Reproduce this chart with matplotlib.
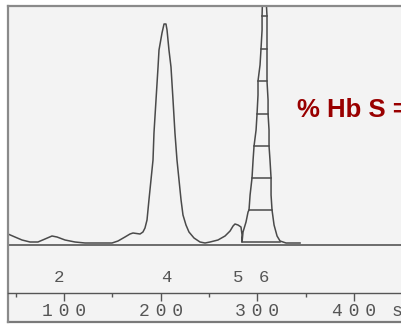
import numpy as np
import matplotlib.pyplot as plt
from matplotlib.ticker import FixedLocator, FixedFormatter

# Chromatogram trace (time in s, signal in arbitrary units)
trace_time = [42.1, 49.3, 56.6, 64.9, 73.1, 80.4, 87.6, 92.8, 101.1, 111.4, 121.8,
              149.7, 155.9, 163.1, 168.3, 171.4, 178.7, 181.7, 183.8, 185.9, 187.9,
              190.0, 192.1, 193.1, 195.2, 197.3, 198.3, 201.4, 203.5, 205.5, 206.6,
              208.6, 210.7, 212.8, 214.8, 216.9, 219.0, 221.1, 223.1, 226.2, 229.3,
              234.5, 240.7, 245.9, 251.1, 259.3, 266.6, 271.8, 274.9, 276.9, 280.0,
              283.1, 284.2, 284.2,
              285.2, 288.3, 290.4, 291.4, 292.5, 294.5, 295.6, 296.6, 298.7, 299.7,
              300.7, 300.7, 302.8, 303.8, 304.9, 304.9, 305.9,
              308.0, 310.0, 310.0, 310.0, 311.1, 311.1, 312.1, 312.1, 313.1, 314.2,
              314.2, 315.2, 317.3, 320.4, 323.5, 329.7, 344.2]
trace_signal = [9, 6, 3, 1, 1, 4, 7, 6, 3, 1, 0,
                0, 2, 6, 9, 10, 9, 11, 15, 23, 43,
                63, 83, 110, 143, 176, 193, 210, 219, 219, 213,
                193, 176, 143, 110, 83, 63, 43, 28, 18, 11,
                5, 1, 0, 1, 3, 7, 12, 17, 19, 18,
                16, 8, 1,
                11, 21, 31, 33, 48, 65, 83, 97, 113, 129,
                148, 162, 178, 194, 213, 227, 263,
                263, 227, 194, 162, 143, 129, 113, 97, 83, 65,
                48, 33, 18, 7, 2, 0, 0]

# integration slices of peak 6
rung_heights = [1, 33, 65, 97, 129, 162, 194, 227]

peak_ids = ["2", "4", "5", "6"]
peak_times = [94.9, 205.5, 280.0, 307.0]

major_ticks = [100, 200, 300, 400]
major_labels = ["1\u20040\u20040", "2\u20040\u20040", "3\u20040\u20040", "4\u20040\u20040"]
minor_ticks = [50, 150, 250, 350]

t = np.array(trace_time)
s = np.array(trace_signal, dtype=float)

fig = plt.figure(figsize=(4.01, 3.24), dpi=100)
fig.patch.set_facecolor("white")
ax = fig.add_axes([7.5 / 401, 2 / 324, 393.5 / 401, 316.5 / 324])
ax.set_facecolor("#f3f3f3")
ax.set_xlim(41.6, 448.6)
ax.set_ylim(-79, 237.5)

ink = "#4a4a4a"
ax.plot(t, s, color=ink, lw=1.1)

# ladder rungs across peak 6
seg = np.where(t >= 284.2)[0]
apex = seg[np.argmax(s[seg])]
left_t, left_s = t[seg[0] + 1:apex + 1], s[seg[0] + 1:apex + 1]
right = np.arange(apex, len(t))
right = right[t[right] <= 323.5]
right_t, right_s = t[right][::-1], s[right][::-1]
for h in rung_heights:
    x0 = np.interp(h, left_s, left_t)
    x1 = np.interp(h, right_s, right_t)
    ax.plot([x0, x1], [h, h], color=ink, lw=1.1)

ax.axhline(-2, color="#555555", lw=1.2)

mono = ["Liberation Mono", "DejaVu Sans"]
for pid, pt in zip(peak_ids, peak_times):
    ax.text(pt, -34, pid, ha="center", va="center", fontsize=12.5,
            family=mono, color="#555555")

# time scale
ax.spines["right"].set_visible(False)
for side in ["left", "top"]:
    ax.spines[side].set_color("#8a8a8a")
    ax.spines[side].set_linewidth(1.6)
ax.spines["bottom"].set_position(("data", -50))
ax.spines["bottom"].set_color("#555555")
ax.spines["bottom"].set_linewidth(1.0)
ax.xaxis.set_major_locator(FixedLocator(major_ticks))
ax.xaxis.set_major_formatter(FixedFormatter(major_labels))
ax.xaxis.set_minor_locator(FixedLocator(minor_ticks))
ax.tick_params(axis="x", which="major", direction="out", length=5.5, width=1,
               color="#555555", labelcolor="#555555", labelsize=13, pad=2)
ax.tick_params(axis="x", which="minor", direction="out", length=3, width=1,
               color="#555555")
for lab in ax.get_xticklabels():
    lab.set_family(mono)
ax.set_yticks([])
ax.text(444.5, -69, "s", ha="center", va="center", fontsize=13,
        family=mono, color="#555555")
ax.plot([0, 1], [0, 0], transform=ax.transAxes, color="#7a7a7a", lw=1.6,
        clip_on=False)

ax.text(341.1, 126, "% Hb S =", ha="left", va="baseline", fontsize=18.5,
        fontweight="bold", family="Liberation Sans", color="#990000",
        clip_on=False)

fig.savefig("out.png", dpi=100, facecolor=fig.get_facecolor())
